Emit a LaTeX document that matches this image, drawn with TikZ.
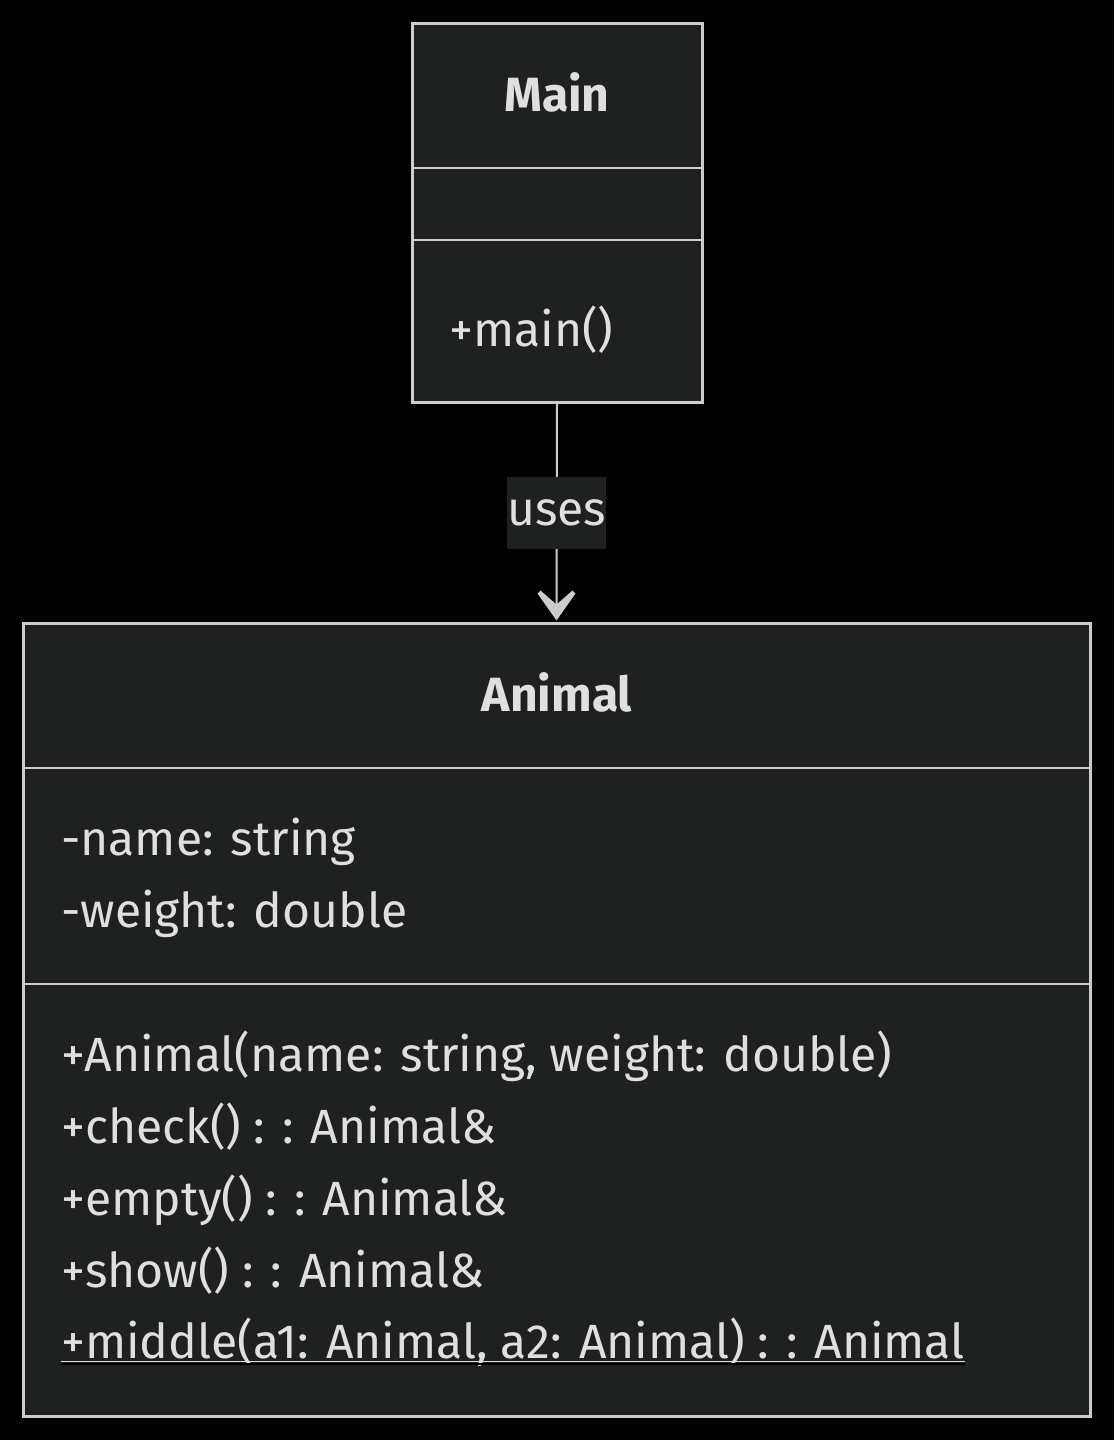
\documentclass[tikz,border=0pt]{standalone}
\usepackage{fontspec}
\setmainfont{Fira Sans}
\usetikzlibrary{arrows.meta}
\definecolor{boxfill}{HTML}{1F2020}
\definecolor{edge}{HTML}{CCCCCC}
\definecolor{fg}{HTML}{E0DFDF}
\newlength\reflen
\begin{document}
\settowidth\reflen{\fontsize{10pt}{12pt}\selectfont +Animal(name: string, weight: double)}%
\pgfmathsetmacro\fs{10*831/\reflen}%
\begin{tikzpicture}[x=1pt,y=-1pt]
\tikzset{
  box/.style={draw=edge, fill=boxfill, line width=3pt, inner sep=0pt},
  divider/.style={draw=edge, line width=2.5pt},
  txt/.style={font=\fontsize{\fs pt}{\fs pt}\selectfont, text=fg, inner sep=0pt, anchor=base west},
  ttl/.style={font=\fontsize{\fs pt}{\fs pt}\selectfont\bfseries, text=fg, inner sep=0pt, anchor=base},
  conn/.style={draw=edge, line width=2pt, shorten >=14pt},
  chevron/.style={fill=edge},
  lbl/.style={fill=boxfill, text=fg, font=\fontsize{\fs pt}{\fs pt}\selectfont, minimum width=90pt, minimum height=72pt, inner sep=0pt}
}
\fill[black] (0,0) rectangle (1114,1440);
\useasboundingbox (0,0) rectangle (1114,1440);
% Main class
\node[box, minimum width=290pt, minimum height=379pt] (main) at (557,212.5) {};
\draw[divider] (412,168) -- (702,168);
\draw[divider] (412,240) -- (702,240);
\node[ttl] (maintitle) at (557,111) {Main};
\node[txt] (mainm) at (449,346) {+main()};
% Animal class
\node[box, minimum width=1067pt, minimum height=793pt] (animal) at (556.5,1019.5) {};
\draw[divider] (23,768) -- (1090,768);
\draw[divider] (23,984) -- (1090,984);
\node[ttl] (animaltitle) at (557,711) {Animal};
\node[txt] (a1) at (61,855) {-name: string};
\node[txt] (a2) at (61,927) {-weight: double};
\node[txt] (m1) at (61,1071) {+Animal(name: string, weight: double)};
\node[txt] (m2) at (61,1143) {+check() : : Animal\&};
\node[txt] (m3) at (61,1215) {+empty() : : Animal\&};
\node[txt] (m4) at (61,1287) {+show() : : Animal\&};
\node[txt] (m5) at (61,1358) {+middle(a1: Animal, a2: Animal) : : Animal};
\draw[black, line width=2.5pt] (m5.base west) ++(0,6) -- ([yshift=-6pt]m5.base east);
\draw[fg, line width=1.5pt] (m5.base west) ++(0,3.5) -- ([yshift=-3.5pt]m5.base east);
% connector
\draw[conn] (main.south) -- node[lbl] (uses) {uses} (animal.north);
\fill[chevron] ([yshift=1pt]animal.north) -- ++(-19,-27) -- ++(3,-3) -- ++(16,14) -- ++(16,-14) -- ++(3,3) -- cycle;
\end{tikzpicture}
\end{document}
